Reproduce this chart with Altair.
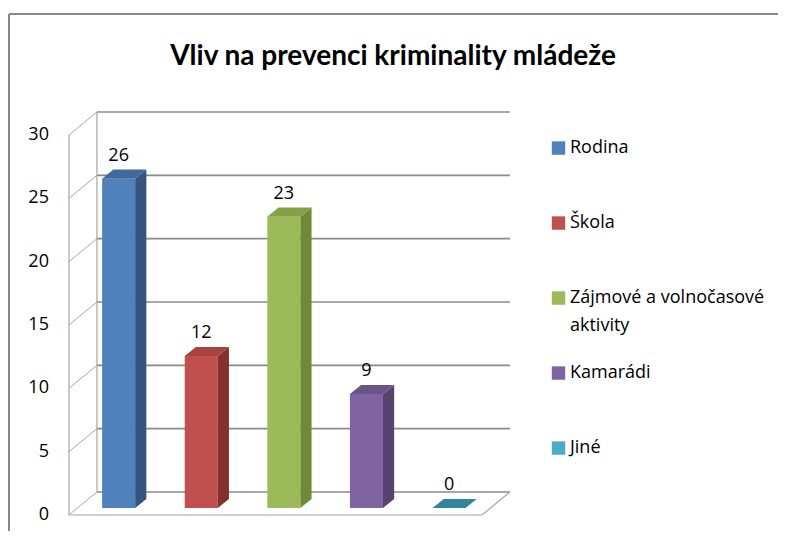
import altair as alt
import pandas as pd

# ---------------- data ----------------
categories = ["Rodina", "Škola", "Zájmové a volnočasové aktivity", "Kamarádi", "Jiné"]
values = [26, 12, 23, 9, 0]
y_ticks = [0, 5, 10, 15, 20, 25, 30]
title_text = "Vliv na prevenci kriminality mládeže"
legend_line1 = ["Rodina", "Škola", "Zájmové a volnočasové", "Kamarádi", "Jiné"]
legend_line2 = ["", "", "aktivity", "", ""]

front_colors = ["#4F81BD", "#C0504D", "#9BBB59", "#8064A2", "#4BACC6"]
side_colors = ["#34557E", "#86302D", "#6E8A39", "#58436F", "#2E7F95"]
top_colors = ["#41699B", "#A64340", "#84A147", "#6C5389", "#31859C"]

# ---------------- geometry (pseudo-3D) ----------------
FONT = "Open Sans"
TITLE_FONT = "Lato"
W, H = 770, 443
PAD_TOP = 80
X_DOM = [-1.3378, 7.9843]
Y_DOM = [-1.263, 33.71]
DX, DY = 0.339, 1.816          # depth of the chart box (x units, value units)
SHIFT = -0.1                   # front-plane slot centre offset
HALF = 0.2                     # half bar width
D0, D1 = 0.3, 0.7              # bar depth range (fraction of box depth)
LEFT = -0.5 + SHIFT
RIGHT = len(categories) - 0.5 + SHIFT

xs = alt.Scale(domain=X_DOM, nice=False, zero=False)
ys = alt.Scale(domain=Y_DOM, nice=False, zero=False)


def X(f):
    return alt.X(f, scale=xs, axis=None)


def Y(f):
    return alt.Y(f, scale=ys, axis=None)


# bars: front rectangle, side and top parallelograms (as area strips)
front_rows, face_rows, label_rows = [], [], []
for i, (c, v) in enumerate(zip(categories, values)):
    l = i + SHIFT - HALF + D0 * DX
    r = i + SHIFT + HALF + D0 * DX
    b = D0 * DY
    t = v + D0 * DY
    ddx = (D1 - D0) * DX
    ddy = (D1 - D0) * DY
    if v > 0:
        front_rows.append(dict(cat=c, x=l, x2=r, y=b, y2=t, col=front_colors[i]))
        face_rows.append(dict(face=f"s{i}", x=r, y=b, y2=t, col=side_colors[i]))
        face_rows.append(dict(face=f"s{i}", x=r + ddx, y=b + ddy, y2=t + ddy, col=side_colors[i]))
    face_rows.append(dict(face=f"t{i}", x=l, y=t, y2=t, col=top_colors[i]))
    face_rows.append(dict(face=f"t{i}", x=l + ddx, y=t, y2=t + ddy, col=top_colors[i]))
    face_rows.append(dict(face=f"t{i}", x=r, y=t, y2=t + ddy, col=top_colors[i]))
    face_rows.append(dict(face=f"t{i}", x=r + ddx, y=t + ddy, y2=t + ddy, col=top_colors[i]))
    label_rows.append(dict(cat=c, x=(l + r) / 2, y=t + ddy, txt=str(v)))

front_df = pd.DataFrame(front_rows)
face_df = pd.DataFrame(face_rows)
label_df = pd.DataFrame(label_rows)

# walls / gridlines
back_grid = pd.DataFrame(dict(x=[LEFT + DX] * len(y_ticks), x2=[RIGHT + DX] * len(y_ticks),
                              y=[t + DY for t in y_ticks]))
slants = pd.DataFrame(dict(x=[LEFT] * len(y_ticks), x2=[LEFT + DX] * len(y_ticks),
                           y=y_ticks, y2=[t + DY for t in y_ticks]))
edges = pd.DataFrame(dict(
    x=[LEFT, LEFT + DX, LEFT, RIGHT],
    x2=[LEFT, LEFT + DX, RIGHT, RIGHT + DX],
    y=[0, DY, 0, 0],
    y2=[y_ticks[-1], y_ticks[-1] + DY, 0, DY],
))
ticks_df = pd.DataFrame(dict(v=y_ticks))
ticks_df["x"] = LEFT
ticks_df["txt"] = ticks_df["v"].astype(str)

# legend
LEG_X_SYM, LEG_X_TXT = 5.327, 5.466
LEG_TOP, LEG_STEP = 28.97, 5.921
legend_df = pd.DataFrame(dict(
    k=list(range(len(categories))),
    l1=legend_line1, l2=legend_line2, col=front_colors,
))
legend_df["y"] = LEG_TOP - legend_df["k"] * LEG_STEP
legend_df["xs"] = LEG_X_SYM
legend_df["xt"] = LEG_X_TXT

# ---------------- layers ----------------
tick_labels = alt.Chart(ticks_df).mark_text(
    font=FONT, fontSize=18, color="#000000", align="right", baseline="middle", dx=-20
).encode(x=X("x:Q"), y=Y("v:Q"), text="txt:N")

grid_layer = alt.Chart(back_grid).mark_rule(color="#8A8A8A", strokeWidth=1.7).encode(
    x=X("x:Q"), x2="x2:Q", y=Y("y:Q"),
)
slant_layer = alt.Chart(slants).mark_rule(color="#A6A6A6", strokeWidth=1).encode(
    x=X("x:Q"), x2="x2:Q", y=Y("y:Q"), y2="y2:Q",
)
edge_layer = alt.Chart(edges).mark_rule(color="#A6A6A6", strokeWidth=1.2).encode(
    x=X("x:Q"), x2="x2:Q", y=Y("y:Q"), y2="y2:Q",
)

front_layer = alt.Chart(front_df).mark_rect().encode(
    x=X("x:Q"), x2="x2:Q", y=Y("y:Q"), y2="y2:Q",
    color=alt.Color("col:N", scale=None),
)
face_layer = alt.Chart(face_df).mark_area(orient="vertical").encode(
    x=X("x:Q"), y=Y("y:Q"), y2="y2:Q",
    detail="face:N",
    color=alt.Color("col:N", scale=None),
)
label_layer = alt.Chart(label_df).mark_text(
    font=FONT, fontSize=18, color="#000000", baseline="middle", dy=-14
).encode(x=X("x:Q"), y=Y("y:Q"), text="txt:N")

leg_sym = alt.Chart(legend_df).mark_square(size=180, opacity=1).encode(
    x=X("xs:Q"), y=Y("y:Q"), color=alt.Color("col:N", scale=None),
)
leg_t1 = alt.Chart(legend_df).mark_text(
    font=FONT, fontSize=18, color="#000000", align="left", baseline="middle"
).encode(x=X("xt:Q"), y=Y("y:Q"), text="l1:N")
leg_t2 = alt.Chart(legend_df).mark_text(
    font=FONT, fontSize=18, color="#000000", align="left", baseline="middle", dy=28
).encode(x=X("xt:Q"), y=Y("y:Q"), text="l2:N")

title_df = pd.DataFrame(dict(t=[title_text]))
title_layer = alt.Chart(title_df).mark_text(
    font=TITLE_FONT, fontSize=28, fontWeight="bold", color="#000000",
    align="center", baseline="alphabetic"
).encode(x=alt.value(W / 2), y=alt.value(65 - 8 - PAD_TOP), text="t:N")

border_df = pd.DataFrame(dict(a=[0]))
border_top = alt.Chart(border_df).mark_rule(color="#868686", strokeWidth=2).encode(
    x=alt.value(1), x2=alt.value(W + 10), y=alt.value(14 - 8 - PAD_TOP),
)
border_left = alt.Chart(border_df).mark_rule(color="#868686", strokeWidth=2).encode(
    x=alt.value(1), y=alt.value(14 - 8 - PAD_TOP), y2=alt.value(H + 10),
)

chart = alt.layer(
    border_top, border_left, title_layer, grid_layer, slant_layer, edge_layer, tick_labels,
    front_layer, face_layer, label_layer, leg_sym, leg_t1, leg_t2,
).properties(
    width=W, height=H,
    autosize=alt.AutoSizeParams(type="none"),
    padding={"left": 0, "top": PAD_TOP, "right": 0, "bottom": 0},
).configure_view(stroke=None)

chart.save("out.html", embed_options={"renderer": "svg", "actions": False})
